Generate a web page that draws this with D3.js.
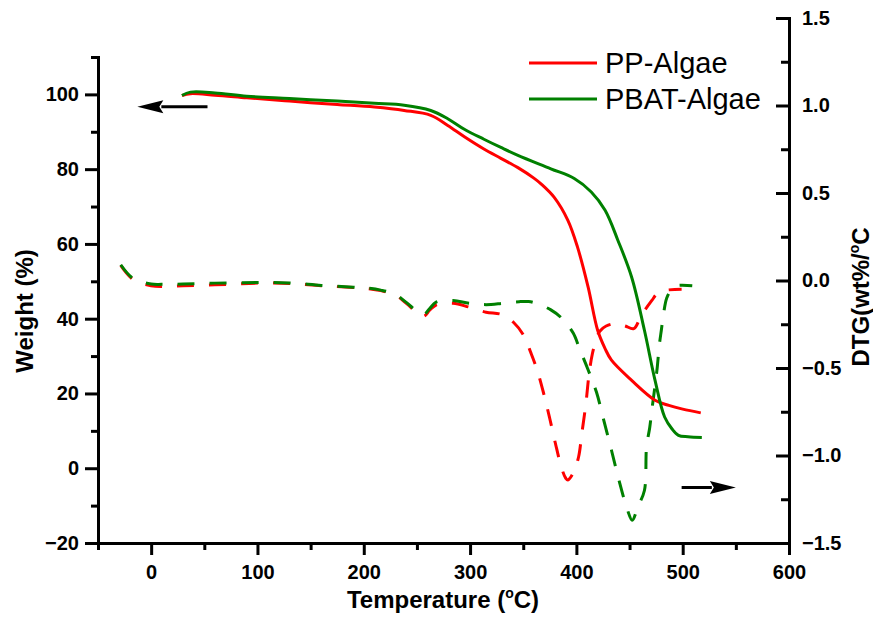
<!DOCTYPE html>
<html><head><meta charset="utf-8">
<script src="https://cdn.jsdelivr.net/npm/d3@7"></script>
<style>
body{margin:0;background:#fff}
svg{display:block}
text{font-family:"Liberation Sans",Arial,Helvetica,sans-serif}
</style>
</head><body>
<svg id="c" width="873" height="617"></svg>
<script>
// ---------- data ----------
const temperatureTicks = [0, 100, 200, 300, 400, 500, 600];
const temperatureMinor = [-50, 50, 150, 250, 350, 450, 550];
const weightTicks = [-20, 0, 20, 40, 60, 80, 100];
const weightMinor = [-10, 10, 30, 50, 70, 90, 110];
const dtgTicks = [-1.5, -1.0, -0.5, 0, 0.5, 1.0, 1.5];
const dtgMinor = [-1.25, -0.75, -0.25, 0.25, 0.75, 1.25];
const seriesNames = ["PP-Algae", "PBAT-Algae"];
const seriesColors = ["#ff0000", "#008000"];

// TGA (left axis, Weight %)
const ppTgaT = [29, 37, 60, 90, 130, 175, 210, 238, 263, 279, 295, 313, 329, 345, 360, 367, 379, 392, 401, 411, 420, 427, 433, 452, 474, 487, 500, 517];
const ppTgaW = [99.7, 100.2, 99.8, 99.1, 98.2, 97.3, 96.6, 95.7, 94.4, 91.7, 88.6, 85.4, 82.9, 80.4, 77.6, 76.0, 72.5, 66.3, 59.2, 48.5, 36.9, 32.0, 28.9, 23.5, 18.2, 16.8, 15.8, 14.8];
const pbatTgaT = [29, 37, 60, 90, 130, 175, 210, 238, 263, 279, 295, 313, 329, 345, 376, 398, 414, 427, 439, 452, 464, 474, 483, 490, 496, 505, 518];
const pbatTgaW = [99.7, 100.6, 100.4, 99.5, 98.9, 98.2, 97.6, 97.1, 95.7, 93.5, 90.6, 88.0, 85.8, 83.7, 80.1, 77.5, 73.9, 69.0, 61.0, 51.1, 36.9, 23.5, 13.7, 10.5, 8.8, 8.4, 8.2];

// DTG (right axis, wt%/°C)
const ppDtgT = [-28.6, -16.7, 0, 10, 30, 60, 100, 130, 160, 190, 202, 216, 230, 240, 256, 262, 268, 284, 299, 315, 330, 341, 351, 357, 363, 369, 375, 381, 386, 390, 392, 397, 402, 405, 409, 412, 415, 418, 422, 428, 438, 446, 454, 461, 471, 476, 483, 499];
const ppDtgD = [0.086, 0.004, -0.03, -0.035, -0.03, -0.025, -0.015, -0.017, -0.03, -0.04, -0.045, -0.058, -0.085, -0.13, -0.205, -0.17, -0.14, -0.13, -0.152, -0.181, -0.195, -0.24, -0.32, -0.41, -0.51, -0.64, -0.79, -0.95, -1.07, -1.13, -1.14, -1.1, -1.01, -0.88, -0.7, -0.53, -0.42, -0.35, -0.29, -0.26, -0.245, -0.26, -0.275, -0.2, -0.114, -0.075, -0.057, -0.05];
const pbatDtgT = [-28.6, -16.7, 0, 10, 30, 60, 100, 130, 160, 190, 202, 216, 230, 240, 256, 262, 268, 284, 299, 315, 331, 346, 355, 362, 376, 386, 397, 403, 411, 419, 425, 433, 440, 448, 452.5, 458, 464, 466, 469, 471, 474, 476, 478, 480, 482, 485, 490, 494, 509];
const pbatDtgD = [0.09, 0.01, -0.02, -0.022, -0.02, -0.015, -0.012, -0.014, -0.028, -0.038, -0.042, -0.055, -0.08, -0.125, -0.195, -0.16, -0.124, -0.114, -0.13, -0.138, -0.13, -0.121, -0.12, -0.13, -0.168, -0.214, -0.3, -0.39, -0.51, -0.64, -0.78, -0.97, -1.14, -1.31, -1.37, -1.29, -1.2, -0.95, -0.84, -0.74, -0.6, -0.5, -0.37, -0.28, -0.19, -0.1, -0.045, -0.03, -0.03];

// annotation arrows (data coordinates: [temperature, value])
const weightArrow = {from: [53, 96.7], to: [-13, 96.7]};
const dtgArrow = {from: [499, -1.183], to: [550, -1.183]};

// ---------- chart ----------
const FONT = '"Liberation Sans", Arial, Helvetica, sans-serif';
const svg = d3.select("#c");
const x = d3.scaleLinear().domain([-50, 600]).range([98, 789]);
const yL = d3.scaleLinear().domain([-20, 110]).range([543, 57]);
const yR = d3.scaleLinear().domain([-1.5, 1.5]).range([543, 18]);

const zip = (a, b) => a.map((v, i) => [v, b[i]]);

function lineFor(yScale) {
  return d3.line().x(d => x(d[0])).y(d => yScale(d[1])).curve(d3.curveCatmullRom.alpha(0.5));
}

const plot = svg.append("g");
// DTG dashed
[[ppDtgT, ppDtgD, 0], [pbatDtgT, pbatDtgD, 1]].forEach(([t, d, i]) => {
  plot.append("path").datum(zip(t, d))
    .attr("d", lineFor(yR))
    .attr("fill", "none").attr("stroke", seriesColors[i])
    .attr("stroke-width", 3).attr("stroke-dasharray", "17,15");
});
// TGA solid
[[ppTgaT, ppTgaW, 0], [pbatTgaT, pbatTgaW, 1]].forEach(([t, w, i]) => {
  plot.append("path").datum(zip(t, w))
    .attr("d", lineFor(yL))
    .attr("fill", "none").attr("stroke", seriesColors[i])
    .attr("stroke-width", 3).attr("stroke-linejoin", "round");
});

function styleAxis(g, showDomain) {
  g.attr("font-family", FONT).attr("font-size", 20).attr("font-weight", "bold");
  g.select(".domain").attr("stroke", showDomain ? "#000" : "none").attr("stroke-width", 3).attr("stroke-linecap", "square");
  g.selectAll(".tick line").attr("stroke", "#000").attr("stroke-width", 3);
  g.selectAll(".tick text").attr("fill", "#000");
}

// bottom axis
svg.append("g").attr("transform", "translate(0,543)")
  .call(d3.axisBottom(x).tickValues(temperatureMinor).tickSize(7).tickSizeOuter(0).tickFormat(""))
  .call(g => styleAxis(g, false));
svg.append("g").attr("transform", "translate(0,543)")
  .call(d3.axisBottom(x).tickValues(temperatureTicks).tickSize(12).tickSizeOuter(0).tickPadding(10).tickFormat(d3.format("d")))
  .call(g => styleAxis(g, true));

// left axis
svg.append("g").attr("transform", "translate(98,0)")
  .call(d3.axisLeft(yL).tickValues(weightMinor).tickSize(7).tickSizeOuter(0).tickFormat(""))
  .call(g => styleAxis(g, false));
svg.append("g").attr("transform", "translate(98,0)")
  .call(d3.axisLeft(yL).tickValues(weightTicks).tickSize(13).tickSizeOuter(0).tickPadding(6).tickFormat(d3.format("d")))
  .call(g => styleAxis(g, true));

// right axis (ticks inward)
svg.append("g").attr("transform", "translate(789,0)")
  .call(d3.axisRight(yR).tickValues(dtgMinor).tickSize(-8).tickSizeOuter(0).tickFormat(""))
  .call(g => styleAxis(g, false));
svg.append("g").attr("transform", "translate(789,0)")
  .call(d3.axisRight(yR).tickValues(dtgTicks).tickSize(-13).tickSizeOuter(0).tickPadding(13).tickFormat(d3.format(".1f")))
  .call(g => styleAxis(g, true));

// axis titles
const xt = svg.append("text").attr("x", 443).attr("y", 608).attr("text-anchor", "middle")
  .attr("font-family", FONT).attr("font-size", 24).attr("font-weight", "bold");
xt.append("tspan").text("Temperature (");
xt.append("tspan").attr("font-size", 14).attr("dy", -10).text("o");
xt.append("tspan").attr("dy", 10).text("C)");

svg.append("text").attr("transform", "translate(33,311) rotate(-90)").attr("text-anchor", "middle")
  .attr("font-family", FONT).attr("font-size", 24).attr("font-weight", "bold").text("Weight (%)");

const rt = svg.append("text").attr("transform", "translate(869,297) rotate(-90)").attr("text-anchor", "middle")
  .attr("font-family", FONT).attr("font-size", 24).attr("font-weight", "bold");
rt.append("tspan").text("DTG(wt%/");
rt.append("tspan").attr("font-size", 14).attr("dy", -10).text("o");
rt.append("tspan").attr("dy", 10).text("C");

// legend
const legend = svg.append("g");
seriesNames.forEach((name, i) => {
  const yy = 63 + i * 36;
  legend.append("line").attr("x1", 529).attr("x2", 597).attr("y1", yy).attr("y2", yy)
    .attr("stroke", seriesColors[i]).attr("stroke-width", 3);
  legend.append("text").attr("x", 605).attr("y", yy + 10)
    .attr("font-family", FONT).attr("font-size", 29).attr("fill", "#000").text(name);
});

// arrows
function arrow(a, yScale) {
  const x1 = x(a.from[0]), y1 = yScale(a.from[1]);
  const x2 = x(a.to[0]), y2 = yScale(a.to[1]);
  const dir = Math.sign(x2 - x1);
  const headLen = 26, half = 6.5;
  svg.append("line").attr("x1", x1).attr("y1", y1).attr("x2", x2 - dir * (headLen - 2)).attr("y2", y2)
    .attr("stroke", "#000").attr("stroke-width", 3);
  svg.append("path")
    .attr("d", `M${x2},${y2} L${x2 - dir * headLen},${y2 - half} L${x2 - dir * (headLen - 4)},${y2} L${x2 - dir * headLen},${y2 + half} Z`)
    .attr("fill", "#000");
}
arrow(weightArrow, yL);
arrow(dtgArrow, yR);
</script>
</body></html>
